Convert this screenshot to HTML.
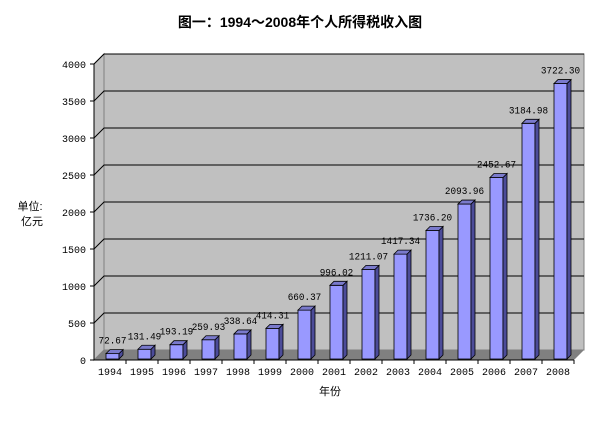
<!DOCTYPE html>
<html><head><meta charset="utf-8"><style>
body{margin:0;background:#fff;width:603px;height:422px;overflow:hidden}
svg{display:block}
text{font-family:"Liberation Mono","Noto Sans CJK SC",monospace;font-size:10px;fill:#000}
.cjk{font-family:"Liberation Sans","Noto Sans CJK SC",sans-serif}
</style></head><body>
<svg id="chart" width="603" height="422">
<text class="cjk" x="300" y="27" text-anchor="middle" style="font-size:14px;font-weight:bold">图一：1994～2008年个人所得税收入图</text>
<text class="cjk" x="30" y="210" text-anchor="middle" style="font-size:11px">单位:</text>
<text class="cjk" x="32" y="225" text-anchor="middle" style="font-size:11px">亿元</text>
<text class="cjk" x="330" y="395" text-anchor="middle" style="font-size:11px">年份</text>
<g id="plot"></g>
</svg>
<script>
const categories=["1994","1995","1996","1997","1998","1999","2000","2001","2002","2003","2004","2005","2006","2007","2008"];
const values=[72.67,131.49,193.19,259.93,338.64,414.31,660.37,996.02,1211.07,1417.34,1736.20,2093.96,2452.67,3184.98,3722.30];
const valueLabels=["72.67","131.49","193.19","259.93","338.64","414.31","660.37","996.02","1211.07","1417.34","1736.20","2093.96","2452.67","3184.98","3722.30"];
const yTicks=[0,500,1000,1500,2000,2500,3000,3500,4000];
const yMax=4000;
const NS="http://www.w3.org/2000/svg";
const g=document.getElementById('plot');
const X0=94,X1=574,Y0=360,Y1=64,D=10;
const y=v=>Y0-(v/yMax)*(Y0-Y1);
const bw=(X1-X0)/categories.length;
const x=i=>X0+bw*i;
function mk(t,a,p){const e=document.createElementNS(NS,t);for(const k in a)e.setAttribute(k,a[k]);(p||g).appendChild(e);return e;}
let e;
e=mk('polygon',{points:`${X0},${Y0} ${X0+D},${Y0-D} ${X0+D},${Y1-D} ${X0},${Y1}`,fill:'#c0c0c0',stroke:'#808080'});


e=mk('rect',{x:X0+D,y:Y1-D,width:X1-X0,height:Y0-Y1,fill:'#c0c0c0',stroke:'#808080'});


e=mk('polygon',{points:`${X0},${Y0} ${X0+D},${Y0-D} ${X1+D},${Y0-D} ${X1},${Y0}`,fill:'#808080'});


yTicks.forEach(t=>{
 const yy=y(t);
 if(t>0){e=mk('polyline',{points:`${X0},${yy} ${X0+D},${yy-D} ${X1+D},${yy-D}`,fill:'none',stroke:'#000','stroke-width':1});
 
 }
 e=mk('line',{x1:X0-4,x2:X0,y1:yy,y2:yy,stroke:'#000'});
 
 
 e=mk('text',{x:X0-8,y:yy+4,'text-anchor':'end'});e.textContent=t;
 
 
});
e=mk('line',{x1:X0,x2:X0,y1:Y1,y2:Y0,stroke:'#000'});


e=mk('line',{x1:X0,x2:X1,y1:Y0,y2:Y0,stroke:'#000'});


categories.forEach((c,i)=>{
 e=mk('line',{x1:x(i+1),x2:x(i+1),y1:Y0,y2:Y0+4,stroke:'#000'});
 
 
 const bx=x(i)+12,w=13,dd=4,top=y(values[i])-1,bot=Y0-1;
 const bg=mk('g',{});
 
 
 mk('rect',{x:bx,y:top,width:w,height:bot-top,fill:'#9999ff',stroke:'#000','stroke-width':0.8},bg);
 mk('polygon',{points:`${bx+w},${top} ${bx+w+dd},${top-dd} ${bx+w+dd},${bot-dd} ${bx+w},${bot}`,fill:'#4c4c99',stroke:'#000','stroke-width':0.8},bg);
 mk('polygon',{points:`${bx},${top} ${bx+dd},${top-dd} ${bx+w+dd},${top-dd} ${bx+w},${top}`,fill:'#7a7acc',stroke:'#000','stroke-width':0.8},bg);
 e=mk('text',{x:bx+w/2,y:top-10,'text-anchor':'middle',textLength:valueLabels[i].length*5.6,lengthAdjust:'spacingAndGlyphs'});e.textContent=valueLabels[i];
 
 
 e=mk('text',{x:x(i)+bw/2,y:Y0+15,'text-anchor':'middle'});e.textContent=c;
 
 
});
</script>
</body></html>
